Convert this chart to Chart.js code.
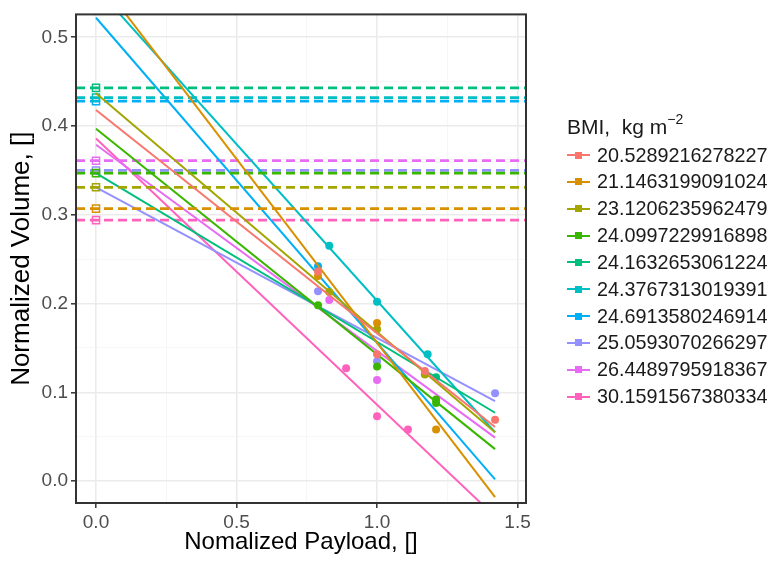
<!DOCTYPE html>
<html>
<head>
<meta charset="utf-8">
<script src="https://cdn.jsdelivr.net/npm/chart.js@4.4.1/dist/chart.umd.min.js"></script>
<style>
  html, body { margin: 0; padding: 0; background: #fff; }
  #wrap { position: relative; width: 779px; height: 562px; font-family: "Liberation Sans", Arial, sans-serif; }
  #legend { position: absolute; left: 567px; top: 109px; color: #1a1a1a; }
  #legend .title { font-size: 21px; line-height: 24px; height: 24px; white-space: pre; }
  #legend .title sup { font-size: 14px; position: relative; top: -2px; }
  #legend .rows { position: absolute; left: 0; top: 32.6px; }
  #legend .row { display: flex; align-items: center; height: 26.85px; font-size: 19.8px; white-space: nowrap; }
  #legend .key { position: relative; width: 23px; height: 2px; margin-right: 7px; }
  #legend .key i { position: absolute; left: 8px; top: -2.5px; width: 7px; height: 7px; }
</style>
</head>
<body>
<div id="wrap">
  <canvas id="chart" width="779" height="562"></canvas>
  <div id="legend">
    <div class="title">BMI,  kg m<sup>−2</sup></div>
    <div class="rows" id="legendRows"></div>
  </div>
</div>
<script>
/* ---------- DATA ---------- */

const BMI = [
  "20.5289216278227", "21.1463199091024", "23.1206235962479", "24.0997229916898",
  "24.1632653061224", "24.3767313019391", "24.6913580246914", "25.0593070266297",
  "26.4489795918367", "30.1591567380334"
];

// dashed reference level per group (square marker at x = 0)
const MEAN_VOL = [null, 0.307, 0.331, 0.347, 0.443, 0.432, 0.428, 0.350, 0.361, 0.294];

// fitted lines: value at x = 0 and at x = FIT_X_END
const FIT_X_END = 1.42;
const FIT_START = [0.418, 0.570, 0.437, 0.397, 0.347, 0.556, 0.522, 0.331, 0.379, 0.386];
const FIT_END   = [0.061, -0.018, 0.055, 0.036, 0.077, 0.055, 0.002, 0.090, 0.049, -0.040];

// observed points
const PTS_X = [
  [0.79, 1.0, 1.17, 1.42],
  [0.79, 1.0, 1.21],
  [0.83, 1.0, 1.17],
  [0.79, 1.0, 1.21, 1.21],
  [1.21],
  [0.83, 1.0, 1.18],
  [0.79],
  [0.79, 1.0, 1.42],
  [0.83, 1.0],
  [0.89, 1.0, 1.11]
];
const PTS_Y = [
  [0.236, 0.143, 0.124, 0.069],
  [0.231, 0.178, 0.058],
  [0.213, 0.171, 0.120],
  [0.198, 0.129, 0.092, 0.088],
  [0.117],
  [0.265, 0.202, 0.143],
  [0.242],
  [0.214, 0.135, 0.099],
  [0.204, 0.114],
  [0.127, 0.073, 0.058]
];

const X_MAJOR = [0, 0.5, 1.0, 1.5];
const X_MINOR = [0.25, 0.75, 1.25];
const Y_MAJOR = [0, 0.1, 0.2, 0.3, 0.4, 0.5];
const Y_MINOR = [0.05, 0.15, 0.25, 0.35, 0.45];
const X_RANGE = [-0.0712, 1.530];
const Y_RANGE = [-0.0247, 0.5258];

/* ---------- STYLE ---------- */

const COLORS = [
  "#F8766D", "#D89000", "#A3A500", "#39B600", "#00BF7D",
  "#00BFC4", "#00B0F6", "#9590FF", "#E76BF3", "#FF62BC"
];
const FONT = "'Liberation Sans', Arial, sans-serif";

/* ---------- DATASETS ---------- */

const datasets = [];
BMI.forEach((label, i) => {
  const c = COLORS[i];
  datasets.push({
    label: label + " fit",
    data: [{ x: 0, y: FIT_START[i] }, { x: FIT_X_END, y: FIT_END[i] }],
    showLine: true,
    borderColor: c,
    borderWidth: 2,
    pointRadius: 0,
    clip: 0
  });
  if (MEAN_VOL[i] !== null) {
    datasets.push({
      label: label + " level",
      data: [
        { x: X_RANGE[0], y: MEAN_VOL[i] },
        { x: 0, y: MEAN_VOL[i] },
        { x: X_RANGE[1], y: MEAN_VOL[i] }
      ],
      showLine: true,
      borderColor: c,
      borderWidth: 2.8,
      borderDash: [9, 5],
      pointStyle: "rect",
      pointRadius: [0, 5, 0],
      pointBorderWidth: 1.5,
      pointBorderColor: c,
      pointBackgroundColor: "rgba(0,0,0,0)",
      clip: 0
    });
  }
  datasets.push({
    label: label,
    data: PTS_X[i].map((x, k) => ({ x, y: PTS_Y[i][k] })),
    showLine: false,
    pointRadius: 4,
    pointBorderWidth: 0,
    pointBackgroundColor: c,
    clip: 0
  });
});

/* ---------- HELPERS ---------- */

const isMajorX = v => Math.abs(v * 2 - Math.round(v * 2)) < 1e-6;
const isMajorY = v => Math.abs(v * 10 - Math.round(v * 10)) < 1e-6;

function axisOpts(range, major, minor, isMajor, fmt) {
  return {
    type: "linear",
    min: range[0],
    max: range[1],
    afterBuildTicks: s => {
      s.ticks = major.concat(minor).sort((a, b) => a - b).map(v => ({ value: v }));
    },
    border: { display: false },
    grid: {
      color: ctx => (ctx.tick && isMajor(ctx.tick.value) ? "#ebebeb" : "#f4f4f4"),
      lineWidth: ctx => (ctx.tick && isMajor(ctx.tick.value) ? 1.6 : 0.8),
      tickColor: ctx => (ctx.tick && isMajor(ctx.tick.value) ? "#333333" : "rgba(0,0,0,0)"),
      tickLength: 5,
      tickWidth: 1.5
    },
    ticks: {
      padding: 3,
      color: "#4d4d4d",
      font: { family: FONT, size: 19 },
      autoSkip: false,
      maxRotation: 0,
      callback: v => (isMajor(v) ? fmt(v) : "")
    }
  };
}

const panelBorder = {
  id: "panelBorder",
  afterDraw(chart) {
    const { ctx, chartArea: a } = chart;
    ctx.save();
    ctx.strokeStyle = "#333333";
    ctx.lineWidth = 2;
    ctx.strokeRect(a.left, a.top, a.right - a.left, a.bottom - a.top);
    ctx.restore();
  }
};

/* ---------- CHART ---------- */

const xAxis = axisOpts(X_RANGE, X_MAJOR, X_MINOR, isMajorX, v => v.toFixed(1));
xAxis.afterFit = s => { s.height = 59; };
xAxis.title = {
  display: true,
  text: "Nomalized Payload, []",
  color: "#000",
  font: { family: FONT, size: 24 },
  padding: { top: 0, bottom: 5 }
};

const yAxis = axisOpts(Y_RANGE, Y_MAJOR, Y_MINOR, isMajorY, v => v.toFixed(1));
yAxis.afterFit = s => { s.width = 76; };
yAxis.title = {
  display: true,
  text: "Normalized Volume, []",
  color: "#000",
  font: { family: FONT, size: 26 },
  padding: { top: 6, bottom: 0 }
};

new Chart(document.getElementById("chart").getContext("2d"), {
  type: "scatter",
  data: { datasets },
  options: {
    responsive: false,
    animation: false,
    devicePixelRatio: 1,
    layout: { padding: { left: 0, top: 12, right: 253, bottom: 0 } },
    plugins: {
      legend: { display: false },
      tooltip: { enabled: false }
    },
    scales: { x: xAxis, y: yAxis }
  },
  plugins: [panelBorder]
});

/* ---------- LEGEND ---------- */

const rows = document.getElementById("legendRows");
BMI.forEach((label, i) => {
  const row = document.createElement("div");
  row.className = "row";
  row.innerHTML =
    '<span class="key" style="background:' + COLORS[i] + '"><i style="background:' +
    COLORS[i] + '"></i></span><span>' + label + "</span>";
  rows.appendChild(row);
});
</script>
</body>
</html>
